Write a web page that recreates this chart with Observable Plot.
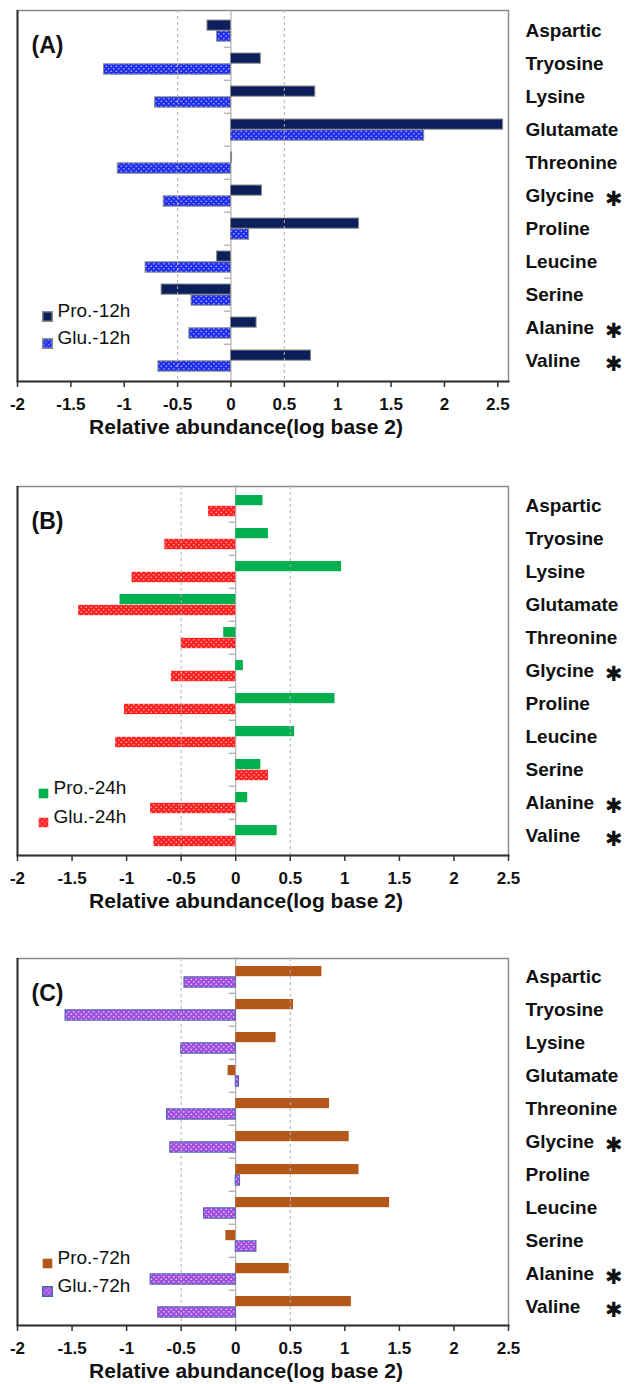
<!DOCTYPE html>
<html>
<head>
<meta charset="utf-8">
<script src="https://cdn.jsdelivr.net/npm/d3@7"></script>
<script src="https://cdn.jsdelivr.net/npm/@observablehq/plot@0.6"></script>
<style>
  html, body { margin: 0; padding: 0; background: #fff; }
  #chart { width: 638px; }
  #chart svg { display: block; }
</style>
</head>
<body>
<div id="chart"></div>
<script>
// ---- data ----
const categories = ["Aspartic","Tryosine","Lysine","Glutamate","Threonine","Glycine","Proline","Leucine","Serine","Alanine","Valine"];
const starred = ["Glycine","Alanine","Valine"];
const xTicks = [-2,-1.5,-1,-0.5,0,0.5,1,1.5,2,2.5];
const axisTitle = "Relative abundance(log base 2)";

const seriesA = ["Pro.-12h","Glu.-12h"];
const pro12 = [-0.22, 0.28, 0.79, 2.55, 0.01, 0.29, 1.20, -0.13, -0.65, 0.24, 0.75];
const glu12 = [-0.13, -1.19, -0.71, 1.81, -1.06, -0.63, 0.17, -0.80, -0.37, -0.39, -0.68];

const seriesB = ["Pro.-24h","Glu.-24h"];
const pro24 = [0.25, 0.30, 0.97, -1.06, -0.11, 0.07, 0.91, 0.54, 0.23, 0.11, 0.38];
const glu24 = [-0.25, -0.65, -0.95, -1.44, -0.50, -0.59, -1.02, -1.10, 0.30, -0.78, -0.75];

const seriesC = ["Pro.-72h","Glu.-72h"];
const pro72 = [0.79, 0.53, 0.37, -0.07, 0.86, 1.04, 1.13, 1.41, -0.09, 0.49, 1.06];
const glu72 = [-0.47, -1.56, -0.50, 0.03, -0.63, -0.60, 0.04, -0.29, 0.19, -0.78, -0.71];

function panel(cfg) {
  const rows = categories.map((c, i) => ({cat: c, pro: cfg.pro[i], glu: cfg.glu[i]}));
  const pat = `url(#${cfg.id})`;
  const svg = Plot.plot({
    width: 638,
    height: cfg.height,
    marginTop: 10,
    marginBottom: cfg.marginBottom,
    marginLeft: 17,
    marginRight: 130,
    x: {domain: [-2, cfg.xmax]},
    y: {domain: categories, padding: 0},
    style: {fontFamily: "'Liberation Sans', Arial, sans-serif", color: "#111", background: "#fff", overflow: "visible"},
    marks: [
      Plot.frame({stroke: "#8c8c8c", strokeWidth: 1.5}),
      Plot.ruleX([0], {stroke: "#a0a0a0"}),
      Plot.ruleY(categories.slice(1), {y: d => d, x1: -0.06, x2: 0, dy: -16.8, stroke: "#999"}),
      Plot.barX(rows, {y: "cat", x1: 0, x2: "pro", insetTop: 6, insetBottom: 16.8,
        fill: cfg.proColor, stroke: cfg.proStroke, strokeWidth: 1}),
      Plot.barX(rows, {y: "cat", x1: 0, x2: "glu", insetTop: 16.8, insetBottom: 5.8,
        fill: pat, stroke: cfg.gluStroke, strokeWidth: 1}),
      Plot.ruleX([-0.5, 0.5], {stroke: "#b0b0b0", strokeDasharray: "3,3"}),
      Plot.ruleX([-2], {stroke: "#333", strokeWidth: 2}),
      Plot.frame({anchor: "bottom", stroke: "#333", strokeWidth: 2}),
      Plot.axisX({ticks: xTicks, tickFormat: d => String(d), tickSize: 6, tickPadding: 10,
        fontSize: 17, fontWeight: "bold", label: null, stroke: "#333", strokeWidth: 1.5}),
      Plot.axisY({anchor: "right", tickSize: 0, tickPadding: 17, fontSize: 19, fontWeight: "bold", label: null}),
      Plot.text(starred, {y: d => d, text: () => "\u2731", frameAnchor: "right", dx: 114, dy: 3,
        fontSize: 21, fontFamily: "DejaVu Sans", fill: "#111"}),
      Plot.text([axisTitle], {text: d => d, frameAnchor: "bottom", dx: -17, dy: 52,
        fontSize: 21, fontWeight: "bold"}),
      Plot.text([cfg.label], {text: d => d, frameAnchor: "top-left", dx: 14, dy: 26,
        textAnchor: "start", fontSize: 23, fontWeight: "bold"}),
      // legend
      Plot.dot([cfg.series[0]], {frameAnchor: "bottom-left", dx: cfg.lgx, dy: cfg.lgy[0],
        symbol: "square", r: 5.4, fill: cfg.proColor, stroke: cfg.proStroke}),
      Plot.dot([cfg.series[1]], {frameAnchor: "bottom-left", dx: cfg.lgx, dy: cfg.lgy[1],
        symbol: "square", r: 5.4, fill: pat, stroke: cfg.gluStroke}),
      Plot.text([cfg.series[0]], {text: d => d, frameAnchor: "bottom-left", dx: cfg.lgx + 10, dy: cfg.lgy[0],
        textAnchor: "start", fontSize: 19}),
      Plot.text([cfg.series[1]], {text: d => d, frameAnchor: "bottom-left", dx: cfg.lgx + 10, dy: cfg.lgy[1],
        textAnchor: "start", fontSize: 19})
    ]
  });
  const s = 5;
  svg.insertAdjacentHTML("afterbegin",
    `<defs><pattern id="${cfg.id}" width="${s}" height="${s}" patternUnits="userSpaceOnUse">
       <rect width="${s}" height="${s}" fill="${cfg.gluColor}"/>
       <circle cx="1.25" cy="1.25" r="0.85" fill="${cfg.dotColor}"/>
       <circle cx="3.75" cy="3.75" r="0.85" fill="${cfg.dotColor}"/>
     </pattern></defs>`);
  return svg;
}

const root = document.getElementById("chart");
root.appendChild(panel({id: "dotsA", label: "(A)", pro: pro12, glu: glu12, series: seriesA,
  proColor: "#0c1f5a", proStroke: "#8a8a8a", gluColor: "#1f2ef0", dotColor: "#9fabff", gluStroke: "#8a8a8a",
  xmax: 2.6, height: 476, marginBottom: 95, lgx: 30, lgy: [-65, -38]}));
root.appendChild(panel({id: "dotsB", label: "(B)", pro: pro24, glu: glu24, series: seriesB,
  proColor: "#00b04f", proStroke: "none", gluColor: "#ff1f1f", dotColor: "#ffaaaa", gluStroke: "none",
  xmax: 2.5, height: 472, marginBottom: 93, lgx: 26, lgy: [-62, -33]}));
root.appendChild(panel({id: "dotsC", label: "(C)", pro: pro72, glu: glu72, series: seriesC,
  proColor: "#b3581a", proStroke: "none", gluColor: "#a24fe0", dotColor: "#e3c8ff", gluStroke: "#4a64a8",
  xmax: 2.5, height: 436, marginBottom: 59, lgx: 30, lgy: [-62, -34]}));
</script>
</body>
</html>
